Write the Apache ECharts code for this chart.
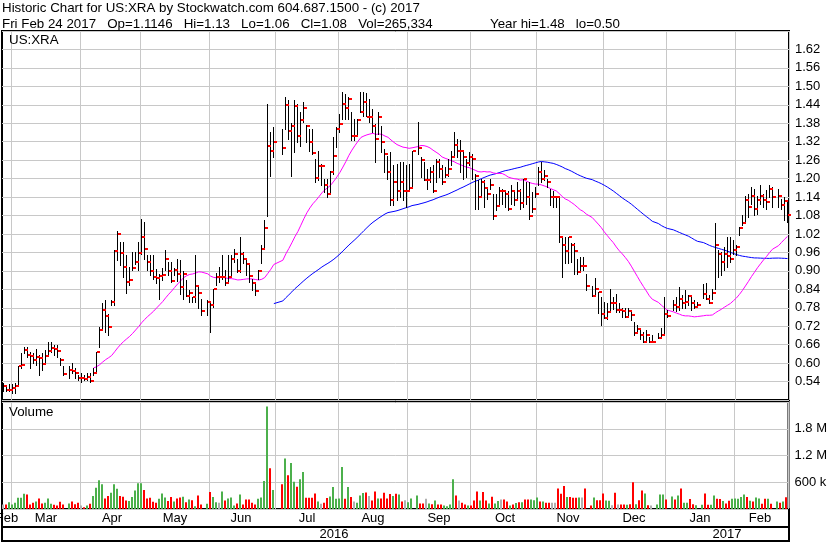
<!DOCTYPE html>
<html>
<head>
<meta charset="utf-8">
<title>US:XRA historic chart</title>
<script src="https://cdn.jsdelivr.net/npm/echarts@6/dist/echarts.min.js"></script>
<style>
  html, body { margin: 0; padding: 0; background: #ffffff; }
  #chart { width: 830px; height: 543px; }
</style>
</head>
<body>
<div id="chart"></div>
<script>
// One slot per weekday between the first and last session; days without trading hold null.
const firstSession = '2016-02-25';
const lastSession = '2017-02-24';
const symbol = 'US:XRA';
const lastOpen = 1.1146;
const shortPeriod = 30;
const longPeriod = 89;
const monthNames = ['Jan','Feb','Mar','Apr','May','Jun','Jul','Aug','Sep','Oct','Nov','Dec'];
const dayNames = ['Sun','Mon','Tue','Wed','Thu','Fri','Sat'];

const highs = [
  .535,.530,.532,.532,.535,.592,.632,.653,.653,.637,
  .632,.645,.626,.632,.643,.670,.670,.659,.659,.616,
  .589,null,.589,.599,.583,.562,.567,.562,.569,.567,
  .583,.637,.718,.794,.805,.761,.805,.967,1.031,.994,
  .994,.950,.913,.961,.961,.994,1.069,1.058,.950,.950,
  .950,.907,.891,.910,.967,.929,.929,.910,.940,.934,
  .900,.869,.837,.815,.950,.848,.810,null,.805,.800,
  .840,.892,.913,.951,.902,.951,.951,.972,.940,1.010,
  .962,.940,.924,.875,.864,.902,.983,1.065,1.443,1.350,
  1.367,null,null,1.360,1.464,1.454,1.380,1.454,1.443,1.415,
  1.448,1.373,1.362,1.362,1.264,1.290,1.248,1.200,1.200,1.226,
  1.335,1.367,1.410,1.483,1.475,1.464,1.418,1.394,1.394,1.483,
  1.483,1.480,1.459,1.426,1.378,1.415,1.372,1.297,1.275,1.286,
  1.243,1.248,1.254,1.254,1.243,1.248,1.290,null,1.383,1.270,
  1.254,1.232,1.237,1.243,1.264,1.264,1.243,1.237,1.264,1.290,
  1.350,1.330,1.324,1.290,1.264,1.286,1.280,1.216,1.194,1.200,
  1.194,1.172,1.200,1.150,1.150,1.172,1.167,1.160,1.160,1.178,
  1.160,1.189,1.167,1.200,1.189,1.189,1.156,1.172,1.237,1.254,
  1.227,1.200,1.167,1.160,1.145,1.140,1.010,1.010,1.010,.990,
  .990,.940,.946,.946,.891,null,.851,.878,.832,.816,
  .800,.794,.840,.815,.826,.794,.778,.778,.778,.773,
  .735,.724,.713,.702,.708,.686,.692,null,.697,.713,
  .816,.773,null,.805,.816,.848,.821,.837,.821,.816,
  .805,.800,null,.856,.862,.821,.840,1.054,.967,.962,
  .978,1.010,1.010,1.000,.983,1.043,1.080,1.145,1.151,1.172,
  1.167,1.145,1.178,1.151,1.162,1.178,1.172,null,1.167,1.135,
  1.140,1.130
];

const lows = [
  .508,.508,.508,.504,.502,.526,.583,.632,.621,.583,
  .599,.594,.562,.578,.599,.626,.637,.626,.621,.594,
  .562,null,.551,.567,.551,.545,.540,.545,.545,.540,
  .562,.567,.653,.713,.702,.691,.788,.788,.934,.918,
  .880,.828,.853,.902,.923,.902,.956,.940,.902,.886,
  .875,.859,.810,.870,.902,.886,.864,.886,.867,.826,
  .810,.818,.799,.799,.799,.780,.756,null,.756,.700,
  .783,.853,.864,.875,.853,.864,.886,.929,.897,.897,
  .924,.886,.864,.837,.821,.875,.924,.970,1.077,1.210,
  1.270,null,null,1.280,1.362,1.330,1.210,1.286,1.318,1.307,
  1.383,1.318,1.290,1.280,1.190,1.194,1.178,1.156,1.140,1.156,
  1.216,1.302,1.350,1.394,1.394,1.394,1.324,1.324,1.340,1.416,
  1.405,1.405,1.383,1.350,1.254,1.345,1.286,1.221,1.200,1.113,
  1.113,1.129,1.140,1.129,1.108,1.160,1.170,null,1.280,1.205,
  1.194,1.167,1.189,1.156,1.189,1.205,1.183,1.205,1.210,1.243,
  1.275,1.270,1.220,1.200,1.205,1.243,1.200,1.100,1.100,1.140,
  1.108,1.134,1.167,1.070,1.097,1.118,1.118,1.108,1.097,1.118,
  1.113,1.129,1.102,1.108,1.118,1.070,1.091,1.140,1.178,1.189,
  1.194,1.172,1.113,1.108,1.108,.994,.880,.924,.924,.929,
  .891,.891,.902,.902,.837,null,.818,.818,.762,.724,
  .748,.745,.765,.777,.767,.767,.750,.750,.750,.740,
  .692,.697,.680,.670,.675,.670,.670,null,.681,.681,
  .692,.751,null,.773,.768,.773,.778,.778,.789,.773,
  .778,.784,null,.813,.808,.794,.810,.840,.880,.886,
  .902,.913,.929,.956,.951,1.016,1.048,1.054,1.075,1.118,
  1.080,1.086,1.118,1.108,1.102,1.140,1.108,null,1.108,1.102,
  1.064,1.060
];

const closes = [
  .524,.511,.514,.518,.527,.589,.595,.643,.626,.623,
  .610,.621,.618,.597,.623,.640,.650,.646,.640,.610,
  .565,null,.578,.575,.569,.553,.553,.548,.556,.543,
  .569,.637,.707,.772,.754,.718,.799,.964,1.021,.959,
  .913,.864,.869,.909,.929,.959,1.010,.972,.929,.900,
  .880,.878,.883,.885,.940,.900,.867,.904,.891,.846,
  .891,.818,.829,.815,.851,.829,.770,null,.800,.789,
  .840,.879,.879,.881,.861,.879,.940,.956,.900,.954,
  .938,.922,.884,.859,.835,.900,.972,1.040,1.307,1.290,
  1.318,null,null,1.300,1.440,1.354,1.370,1.437,1.340,1.390,
  1.430,1.370,1.318,1.283,1.203,1.240,1.240,1.180,1.150,1.220,
  1.275,1.362,1.378,1.443,1.430,1.460,1.340,1.340,1.390,1.418,
  1.450,1.400,1.400,1.370,1.330,1.400,1.320,1.280,1.220,1.130,
  1.190,1.160,1.189,1.160,1.160,1.169,1.289,null,1.300,1.260,
  1.197,1.197,1.220,1.160,1.253,1.232,1.189,1.213,1.232,1.270,
  1.310,1.289,1.289,1.270,1.250,1.270,1.264,1.210,1.140,1.189,
  1.169,1.149,1.178,1.077,1.110,1.160,1.160,1.149,1.100,1.160,
  1.129,1.160,1.121,1.200,1.140,1.077,1.100,1.149,1.223,1.200,
  1.210,1.189,1.140,1.140,1.140,1.010,.983,.965,1.010,.983,
  .965,.895,.917,.917,.850,null,.818,.840,.830,.760,
  .748,.765,.797,.797,.772,.772,.770,.750,.770,.756,
  .699,.710,.690,.670,.690,.670,.670,null,.681,.693,
  .760,.754,null,.789,.781,.807,.797,.800,.818,.797,
  .781,.789,null,.824,.810,.797,.829,.983,.956,.929,
  .956,.949,.940,.967,.976,1.040,1.057,1.131,1.108,1.142,
  1.100,1.131,1.142,1.131,1.124,1.167,1.140,null,1.142,1.113,
  1.127,1.080
];

const volumes = [
  101000,101000,154000,101000,139000,252000,252000,342000,327000,101000,
  139000,169000,237000,124000,139000,237000,117000,94000,79000,162000,
  101000,null,124000,169000,109000,139000,79000,41000,79000,117000,
  289000,477000,643000,553000,237000,289000,365000,553000,455000,289000,
  274000,192000,177000,267000,417000,575000,575000,425000,237000,252000,
  162000,139000,229000,350000,259000,177000,267000,169000,237000,259000,
  274000,154000,214000,199000,64000,305000,101000,null,117000,380000,
  267000,154000,139000,395000,192000,237000,259000,79000,124000,327000,
  101000,214000,214000,139000,101000,229000,259000,628000,2300000,914000,
  425000,null,null,553000,1130000,756000,1030000,613000,500000,665000,
  831000,252000,252000,252000,350000,169000,117000,139000,244000,282000,
  492000,229000,237000,944000,229000,492000,267000,169000,139000,305000,
  357000,372000,289000,192000,395000,237000,237000,365000,237000,335000,
  289000,342000,327000,169000,199000,154000,237000,null,305000,124000,
  124000,229000,124000,109000,192000,101000,101000,79000,64000,101000,
  665000,305000,192000,139000,101000,79000,79000,192000,395000,192000,
  380000,192000,124000,274000,124000,177000,214000,214000,169000,79000,
  101000,132000,154000,154000,214000,214000,214000,199000,259000,169000,
  169000,139000,139000,139000,139000,462000,342000,515000,267000,267000,
  252000,252000,259000,259000,462000,null,79000,259000,199000,199000,
  350000,192000,184000,86000,365000,101000,101000,101000,94000,109000,
  598000,109000,199000,417000,350000,86000,79000,null,101000,327000,
  327000,214000,null,282000,214000,305000,462000,139000,139000,222000,
  109000,86000,null,94000,350000,94000,94000,305000,229000,222000,
  177000,124000,184000,229000,237000,229000,267000,327000,267000,184000,
  169000,259000,237000,117000,229000,229000,117000,null,169000,139000,
  169000,265334
];

// ---- calendar of weekday slots ----
function parseDay(s) { return new Date(s + 'T00:00:00Z'); }
function fmtDay(d) { return d.toISOString().slice(0, 10); }
const slotDates = [];
for (let d = parseDay(firstSession); d <= parseDay(lastSession); d = new Date(d.getTime() + 86400000)) {
  const wd = d.getUTCDay();
  if (wd !== 0 && wd !== 6) slotDates.push(fmtDay(d));
}
const n = slotDates.length;

// Month edges sit before the last weekday on or before each month's first day.
const monthEdges = new Set();
const yearEdges = new Set();
slotDates.forEach((s, i) => {
  const d = parseDay(s);
  let edge = d.getUTCDate() === 1;
  if (!edge && i + 1 < n) {
    const nx = parseDay(slotDates[i + 1]);
    edge = nx.getUTCMonth() !== d.getUTCMonth() && nx.getUTCDate() !== 1;
  }
  if (edge) {
    monthEdges.add(i);
    const monthOfEdge = d.getUTCDate() === 1 ? d.getUTCMonth() : (d.getUTCMonth() + 1) % 12;
    if (monthOfEdge === 0) yearEdges.add(i);
  }
});

// Label slots: the middle weekday of each calendar month / year.
function middles(keyFn, textFn) {
  const groups = new Map();
  slotDates.forEach((s, i) => {
    const k = keyFn(s);
    if (!groups.has(k)) groups.set(k, [i, i]);
    groups.get(k)[1] = i;
  });
  const out = [];
  groups.forEach(([a, b]) => { const m = Math.floor((a + b) / 2); out.push({ index: m, text: textFn(slotDates[m]) }); });
  return out;
}
const monthLabels = middles(s => s.slice(0, 7), s => monthNames[parseDay(s).getUTCMonth()]);
const yearLabels = middles(s => s.slice(0, 4), s => s.slice(0, 4));

// ---- derived series ----
function movingAverage(period) {
  const out = new Array(n).fill(null);
  const idx = [], vals = [];
  closes.forEach((c, i) => { if (c != null) { idx.push(i); vals.push(c); } });
  for (let k = period - 1; k < vals.length; k++) {
    let s = 0;
    for (let j = k - period + 1; j <= k; j++) s += vals[j];
    out[idx[k]] = s / period;
  }
  return out;
}
const maShort = movingAverage(shortPeriod);
const maLong = movingAverage(longPeriod);

const barItems = [];
const volItems = [];
let prevClose = null;
for (let i = 0; i < n; i++) {
  if (closes[i] == null) continue;
  barItems.push([i, highs[i], lows[i], closes[i]]);
  let dir = 0;
  if (prevClose != null) dir = closes[i] > prevClose ? 1 : (closes[i] < prevClose ? -1 : 0);
  volItems.push([i, volumes[i], dir]);
  prevClose = closes[i];
}

// ---- header text from the last session ----
let last = n - 1;
while (closes[last] == null) last--;
const lastDate = parseDay(slotDates[last]);
const yearHigh = Math.max(...highs.filter(v => v != null));
const yearLow = Math.min(...lows.filter(v => v != null));
const gap = '   ';
const headerTop = 'Historic Chart for ' + symbol + ' by Stockwatch.com 604.687.1500 - (c) ' + lastDate.getUTCFullYear();
const headerSession =
  dayNames[lastDate.getUTCDay()] + ' ' + monthNames[lastDate.getUTCMonth()] + ' ' + lastDate.getUTCDate() + ' ' + lastDate.getUTCFullYear() +
  gap + 'Op=' + lastOpen + gap + 'Hi=' + highs[last].toFixed(2) + gap + 'Lo=' + lows[last].toFixed(2) +
  gap + 'Cl=' + closes[last].toFixed(2) + gap + 'Vol=' + volumes[last].toLocaleString('en-US');
const headerYear = 'Year hi=' + yearHigh.toFixed(2) + gap + 'lo=' + yearLow.toFixed(2);

// ---- chart ----
const FONT = 'Liberation Sans, Arial, sans-serif';
const GRID_LINE = '#c8c8c8';
const LEFT = 2, WIDTH = 787;
const headStyle = { fontFamily: FONT, fontSize: 13.33, fontWeight: 'normal', color: '#000', lineHeight: 16 };

function catAxis(gridIndex, extra) {
  return Object.assign({
    type: 'category', gridIndex: gridIndex, data: slotDates, boundaryGap: true,
    axisLine: { show: false }, axisTick: { show: false }, axisLabel: { show: false },
    splitLine: { show: true, interval: (i) => monthEdges.has(i), lineStyle: { color: GRID_LINE, width: 1 } }
  }, extra || {});
}

// Text labels placed in a strip grid at the middle of each period.
function stripLabels(gridIndex, labels) {
  return {
    type: 'custom', xAxisIndex: gridIndex, yAxisIndex: gridIndex, clip: false, silent: true,
    data: labels.map(l => [l.index, 0.5]),
    encode: { x: 0, y: 1 },
    renderItem: function (params, api) {
      const p = api.coord([api.value(0), api.value(1)]);
      return { type: 'text', x: Math.round(p[0]), y: Math.round(p[1]),
        style: { text: labels[params.dataIndex].text, fill: '#000', font: '13px ' + FONT,
          align: 'center', verticalAlign: 'middle', textAlign: 'center', textVerticalAlign: 'middle' } };
    }
  };
}

const chart = echarts.init(document.getElementById('chart'), null, { renderer: 'canvas' });
chart.setOption({
  animation: false,
  backgroundColor: '#ffffff',
  title: [
    { text: headerTop, left: 2, top: 0, padding: 0, textStyle: headStyle },
    { text: headerSession, left: 2, top: 16, padding: 0, textStyle: headStyle },
    { text: headerYear, left: 490, top: 16, padding: 0, textStyle: headStyle },
    { text: symbol, left: 9, top: 34, padding: 0,
      textStyle: { fontFamily: FONT, fontSize: 13.33, fontWeight: 'normal', color: '#000' } },
    { text: 'Volume', left: 9, top: 406, padding: 0,
      textStyle: { fontFamily: FONT, fontSize: 13.33, fontWeight: 'normal', color: '#000' } }
  ],
  grid: [
    { left: LEFT, width: WIDTH, top: 31, height: 369, show: true, borderColor: '#000', borderWidth: 2 },
    { left: LEFT, width: WIDTH, top: 402, height: 107, show: true, borderColor: '#000', borderWidth: 2 },
    { left: LEFT, width: WIDTH, top: 509, height: 18, show: true, borderColor: '#000', borderWidth: 2 },
    { left: LEFT, width: WIDTH, top: 527, height: 14, show: true, borderColor: '#000', borderWidth: 2 }
  ],
  xAxis: [
    catAxis(0),
    catAxis(1),
    catAxis(2, { splitLine: { show: true, interval: (i) => yearEdges.has(i), lineStyle: { color: '#000', width: 2 } } }),
    catAxis(3, { splitLine: { show: true, interval: (i) => yearEdges.has(i), lineStyle: { color: '#000', width: 2 } } })
  ],
  yAxis: [
    { type: 'value', gridIndex: 0, position: 'right', min: 0.48, max: 1.68, interval: 0.06,
      axisLine: { show: false }, axisTick: { show: false },
      axisLabel: { margin: 6, showMinLabel: false, showMaxLabel: false, formatter: (v) => v.toFixed(2),
        fontFamily: FONT, fontSize: 13, color: '#000' },
      splitLine: { show: true, lineStyle: { color: GRID_LINE, width: 1 } } },
    { type: 'value', gridIndex: 1, position: 'right', min: 0, max: 2400000, interval: 600000,
      axisLine: { show: false }, axisTick: { show: false },
      axisLabel: { margin: 6, showMinLabel: false, showMaxLabel: false,
        formatter: (v) => v < 1000000 ? (v / 1000) + ' k' : (v / 1000000).toFixed(1) + ' M',
        fontFamily: FONT, fontSize: 13, color: '#000' },
      splitLine: { show: true, lineStyle: { color: GRID_LINE, width: 1 } } },
    { type: 'value', gridIndex: 2, show: false, min: 0, max: 1, splitLine: { show: false } },
    { type: 'value', gridIndex: 3, show: false, min: 0, max: 1, splitLine: { show: false } }
  ],
  series: [
    { type: 'line', name: 'MA ' + longPeriod, xAxisIndex: 0, yAxisIndex: 0, data: maLong,
      showSymbol: false, connectNulls: true, z: 2, lineStyle: { color: '#0000ff', width: 1 } },
    { type: 'line', name: 'MA ' + shortPeriod, xAxisIndex: 0, yAxisIndex: 0, data: maShort,
      showSymbol: false, connectNulls: true, z: 2, lineStyle: { color: '#ff00ff', width: 1 } },
    { type: 'custom', name: 'High-Low', xAxisIndex: 0, yAxisIndex: 0, data: barItems, z: 3,
      encode: { x: 0, y: [1, 2] },
      renderItem: function (params, api) {
        const i = api.value(0);
        const hi = api.coord([i, api.value(1)]);
        const lo = api.coord([i, api.value(2)]);
        const x = Math.floor(hi[0]);
        return { type: 'rect', shape: { x: x, y: Math.round(hi[1]), width: 1, height: Math.max(1, Math.round(lo[1]) - Math.round(hi[1]) + 1) },
          style: { fill: '#000' } };
      } },
    { type: 'custom', name: 'Close', xAxisIndex: 0, yAxisIndex: 0, data: barItems, z: 4,
      encode: { x: 0, y: 3 },
      renderItem: function (params, api) {
        const i = api.value(0);
        const cl = api.coord([i, api.value(3)]);
        const x = Math.floor(cl[0]);
        return { type: 'rect', shape: { x: x + 1, y: Math.round(cl[1]) - 1, width: 3, height: 2 },
          style: { fill: '#ff0000' } };
      } },
    { type: 'custom', name: 'Volume', xAxisIndex: 1, yAxisIndex: 1, data: volItems, z: 3,
      encode: { x: 0, y: 1 },
      renderItem: function (params, api) {
        const i = api.value(0);
        const top = api.coord([i, api.value(1)]);
        const base = api.coord([i, 0]);
        const dir = api.value(2);
        const color = dir > 0 ? '#4cb04c' : (dir < 0 ? '#ff0000' : '#b0b0b0');
        const x = Math.floor(top[0]) - 1;
        return { type: 'rect', shape: { x: x, y: top[1], width: 2, height: base[1] - top[1] },
          style: { fill: color } };
      } },
    stripLabels(2, monthLabels),
    stripLabels(3, yearLabels)
  ]
});
</script>
</body>
</html>
